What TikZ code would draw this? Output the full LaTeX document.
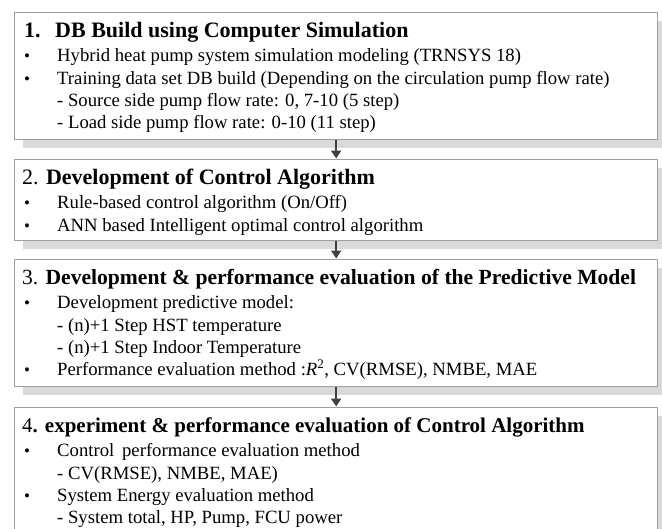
\documentclass[tikz,border=0pt]{standalone}
\usepackage{fontspec}
\setmainfont{Liberation Serif}
\usetikzlibrary{shadows,arrows.meta}
\tikzset{
  box/.style={draw=black!38, line width=1.4pt, fill=white, anchor=north west, inner sep=0pt,
    drop shadow={shadow xshift=8pt, shadow yshift=-8pt, fill=black!15, opacity=1}},
  ttl/.style={anchor=base west, inner sep=0pt, font=\fontsize{#1}{26}\selectfont},
  ttl/.default=22,
  txt/.style={anchor=base west, inner sep=0pt, font=\fontsize{18.7}{22}\selectfont},
  conn/.style={draw=black!75, line width=2.4pt, -{Triangle[length=8pt,width=10pt]}, shorten >=0.5pt}
}
\newcommand{\bul}{{\fontsize{17}{18}\selectfont\textbullet}}
\begin{document}
\begin{tikzpicture}[x=1pt,y=-1pt]
\useasboundingbox (0,0) rectangle (662,528);
\clip (0,0) rectangle (662,528);
\fill[white] (0,0) rectangle (662,528);
% boxes
\node[box, minimum width=643pt, minimum height=127pt] (b1) at (14,12) {};
\node[box, minimum width=643pt, minimum height=81pt] (b2) at (14,159) {};
\node[box, minimum width=643pt, minimum height=127pt] (b3) at (14,259) {};
\node[box, minimum width=643pt, minimum height=135pt] (b4) at (14,407) {};
% connectors
\draw[conn] (b1.south) -- (b2.north);
\draw[conn] (b2.south) -- (b3.north);
\draw[conn] (b3.south) -- (b4.north);
% box 1
\node[ttl] (t1a) at (24,37) {\textbf{1.}};
\node[ttl] (t1b) at (55,37) {\textbf{DB Build using Computer Simulation}};
\node[txt] (p1a) at (24,61) {\bul};
\node[txt] (l1a) at (57,61) {Hybrid heat pump system simulation modeling (TRNSYS 18)};
\node[txt] (p1b) at (24,84) {\bul};
\node[txt] (l1b) at (57,84) {Training data set DB build (Depending on the circulation pump flow rate)};
\node[txt] (l1c) at (57,106) {- Source side pump flow rate: 0, 7-10 (5 step)};
\node[txt] (l1d) at (57,128) {- Load side pump flow rate: 0-10 (11 step)};
% box 2
\node[ttl] (t2) at (22,184) {2. \textbf{Development of Control Algorithm}};
\node[txt] (p2a) at (24,208) {\bul};
\node[txt] (l2a) at (57,208) {Rule-based control algorithm (On/Off)};
\node[txt] (p2b) at (24,231) {\bul};
\node[txt] (l2b) at (57,231) {ANN based Intelligent optimal control algorithm};
% box 3
\node[ttl=21.6] (t3) at (22,284) {3. \textbf{Development \& performance evaluation of the Predictive Model}};
\node[txt] (p3a) at (24,308) {\bul};
\node[txt] (l3a) at (57,308) {Development predictive model:};
\node[txt] (l3b) at (57,331) {- (n)+1 Step HST temperature};
\node[txt] (l3c) at (57,353) {- (n)+1 Step Indoor Temperature};
\node[txt] (p3b) at (24,375) {\bul};
\node[txt] (l3d) at (57,375) {Performance evaluation method :\textit{R}\textsuperscript{2}, CV(RMSE), NMBE, MAE};
% box 4
\node[ttl=21] (t4) at (22,432) {4\textbf{. experiment \& performance evaluation of Control Algorithm}};
\node[txt] (p4a) at (24,456) {\bul};
\node[txt] (l4a) at (57,456) {Control\, performance evaluation method};
\node[txt] (l4b) at (57,479) {- CV(RMSE), NMBE, MAE)};
\node[txt] (p4b) at (24,501) {\bul};
\node[txt] (l4c) at (57,501) {System Energy evaluation method};
\node[txt] (l4d) at (57,523) {- System total, HP, Pump, FCU power};
\end{tikzpicture}
\end{document}
